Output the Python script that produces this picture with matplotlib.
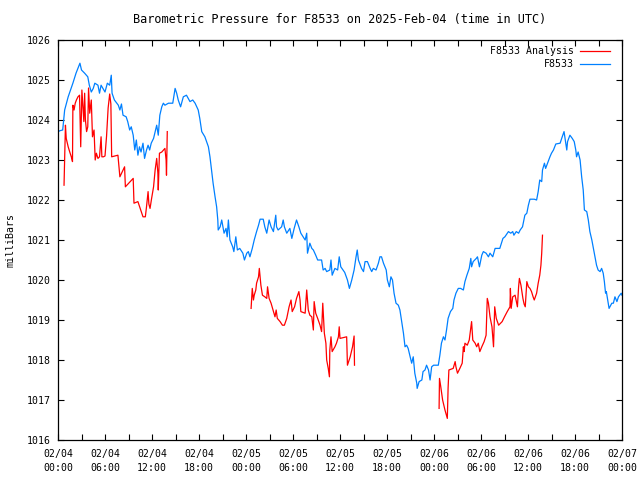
import numpy as np
import matplotlib
matplotlib.use('Agg')
import matplotlib.pyplot as plt

# F8533 observed pressure (hours since 2025-02-04 00:00 UTC, mb)
obs_hours = [
    0.0, 0.2, 0.6, 0.85, 1.3, 1.6, 1.9, 2.3, 2.8, 3.0, 3.4, 3.8, 4.0, 4.25, 4.5, 4.7,
    5.1, 5.3, 5.5, 6.0, 6.3, 6.6, 6.8, 6.9, 7.2, 7.7, 7.9, 8.1, 8.3, 8.7, 8.9, 9.15,
    9.35, 9.6, 9.8, 10.0, 10.2, 10.4, 10.6, 10.85, 11.05, 11.3, 11.5, 11.7, 11.9, 12.2,
    12.6, 12.8, 13.0, 13.25, 13.45, 13.65, 14.1, 14.65, 14.95, 15.15, 15.35, 15.65, 16.0,
    16.4, 16.85, 17.2, 17.5, 17.9, 18.1, 18.35, 18.75, 19.2, 19.4, 19.6, 19.8, 20.05,
    20.25, 20.4, 20.45, 20.7, 20.9, 21.2, 21.45, 21.6, 21.75, 21.95, 22.3, 22.45, 22.7,
    22.9, 23.2, 23.6, 23.8, 24.1, 24.3, 24.5, 24.8, 25.05, 25.35, 25.6, 25.8, 26.2, 26.4,
    26.65, 26.95, 27.2, 27.5, 27.8, 27.9, 28.1, 28.55, 28.75, 28.9, 29.2, 29.6, 29.85,
    30.15, 30.45, 30.75, 31.0, 31.3, 31.55, 31.75, 31.85, 32.15, 32.4, 32.6, 32.9, 33.15,
    33.65, 33.85, 34.1, 34.3, 34.7, 34.85, 35.0, 35.35, 35.7, 35.9, 36.1, 36.6, 36.95,
    37.2, 37.5, 37.8, 38.05, 38.2, 38.35, 38.75, 39.0, 39.2, 39.5, 39.85, 40.05, 40.25,
    40.6, 40.9, 41.1, 41.3, 41.55, 41.9, 42.05, 42.3, 42.5, 42.7, 42.9, 43.15, 43.45,
    43.65, 43.85, 44.1, 44.3, 44.5, 44.7, 44.95, 45.15, 45.35, 45.55, 45.8, 45.85, 46.1,
    46.45, 46.6, 46.85, 47.05, 47.3, 47.5, 47.7, 47.95, 48.55, 48.75, 48.95, 49.2, 49.4,
    49.6, 49.8, 50.1, 50.4, 50.55, 50.8, 51.1, 51.4, 51.75, 51.95, 52.2, 52.5, 52.7, 52.8,
    53.0, 53.4, 53.55, 53.8, 54.1, 54.3, 54.65, 54.95, 55.15, 55.5, 55.8, 56.4, 56.8,
    57.05, 57.5, 57.8, 58.05, 58.2, 58.5, 58.8, 59.0, 59.3, 59.6, 59.85, 60.05, 60.25,
    60.8, 61.1, 61.3, 61.5, 61.75, 61.85, 62.1, 62.25, 62.5, 62.8, 63.0, 63.25, 63.55,
    64.1, 64.3, 64.6, 64.7, 64.95, 65.05, 65.35, 65.65, 65.9, 66.1, 66.2, 66.4, 66.65,
    66.85, 67.05, 67.2, 67.5, 67.7, 67.9, 68.15, 68.35, 68.55, 68.75, 68.95, 69.2, 69.4,
    69.6, 69.75, 69.9, 70.0, 70.25, 70.35, 70.7, 70.9, 71.1, 71.35, 71.55, 71.9, 72.0,
]
obs_pres = [
    1023.7, 1023.73, 1023.75, 1024.25, 1024.58, 1024.75, 1024.92, 1025.17, 1025.42,
    1025.25, 1025.17, 1025.08, 1024.87, 1024.7, 1024.79, 1024.92, 1024.87, 1024.67,
    1024.87, 1024.7, 1024.92, 1024.87, 1025.12, 1024.67, 1024.5, 1024.37, 1024.25,
    1024.4, 1024.12, 1024.08, 1023.96, 1023.75, 1023.83, 1023.62, 1023.25, 1023.5,
    1023.12, 1023.33, 1023.2, 1023.42, 1023.04, 1023.25, 1023.37, 1023.25, 1023.42,
    1023.54, 1023.87, 1023.62, 1024.12, 1024.33, 1024.42, 1024.37, 1024.42, 1024.42,
    1024.79, 1024.67, 1024.5, 1024.33, 1024.58, 1024.62, 1024.46, 1024.5, 1024.42,
    1024.25, 1024.04, 1023.71, 1023.58, 1023.33, 1023.08, 1022.75, 1022.42, 1022.08,
    1021.83, 1021.5, 1021.25, 1021.33, 1021.5, 1021.17, 1021.29, 1021.08, 1021.5,
    1021.0, 1020.83, 1020.71, 1021.08, 1020.75, 1020.79, 1020.67, 1020.5, 1020.67,
    1020.71, 1020.58, 1020.79, 1021.0, 1021.21, 1021.37, 1021.52, 1021.52, 1021.33,
    1021.17, 1021.5, 1021.33, 1021.21, 1021.62, 1021.33, 1021.25, 1021.33, 1021.5,
    1021.33, 1021.17, 1021.29, 1021.04, 1021.29, 1021.5, 1021.33, 1021.17, 1021.08,
    1021.0, 1021.17, 1020.67, 1020.92, 1020.79, 1020.75, 1020.62, 1020.5, 1020.5,
    1020.25, 1020.29, 1020.21, 1020.25, 1020.5, 1020.12, 1020.29, 1020.25, 1020.58,
    1020.33, 1020.19, 1020.0, 1019.79, 1020.0, 1020.25, 1020.58, 1020.75, 1020.5,
    1020.29, 1020.21, 1020.46, 1020.46, 1020.29, 1020.21, 1020.29, 1020.25, 1020.42,
    1020.58, 1020.58, 1020.42, 1020.25, 1020.0, 1019.83, 1020.08, 1020.0, 1019.67,
    1019.42, 1019.37, 1019.25, 1019.0, 1018.67, 1018.33, 1018.37, 1018.29, 1018.08,
    1017.92, 1018.08, 1017.67, 1017.42, 1017.29, 1017.46, 1017.5, 1017.71, 1017.75,
    1017.87, 1017.75, 1017.5, 1017.83, 1017.87, 1017.87, 1018.12, 1018.42, 1018.58,
    1018.5, 1018.75, 1019.04, 1019.21, 1019.29, 1019.5, 1019.67, 1019.79, 1019.79,
    1019.75, 1019.96, 1020.12, 1020.29, 1020.54, 1020.33, 1020.46, 1020.54, 1020.58,
    1020.33, 1020.62, 1020.71, 1020.67, 1020.58, 1020.67, 1020.58, 1020.79, 1020.79,
    1021.04, 1021.08, 1021.21, 1021.17, 1021.21, 1021.12, 1021.21, 1021.17, 1021.25,
    1021.33, 1021.62, 1021.67, 1021.87, 1022.02, 1022.02, 1022.0, 1022.21, 1022.5,
    1022.46, 1022.75, 1022.92, 1022.79, 1022.92, 1023.08, 1023.17, 1023.25, 1023.4,
    1023.42, 1023.54, 1023.71, 1023.58, 1023.25, 1023.46, 1023.62, 1023.54, 1023.46,
    1023.25, 1023.08, 1023.2, 1023.0, 1022.58, 1022.25, 1021.75, 1021.71, 1021.5,
    1021.21, 1021.0, 1020.79, 1020.58, 1020.37, 1020.25, 1020.21, 1020.29, 1020.17,
    1019.96, 1019.67, 1019.71, 1019.42, 1019.29, 1019.42, 1019.42, 1019.58, 1019.46,
    1019.58, 1019.67, 1019.62,
]

# F8533 analysis (gaps marked with nan)
ana_hours = [
    0.77, 0.95, 1.05, 1.3, 1.5, 1.7, 1.85, 1.9, 2.05, 2.2, 2.35, 2.55, 2.75, 2.9, 3.05,
    3.2, 3.3, 3.4, 3.5, 3.65, 3.8, 3.9, 4.05, 4.25, 4.4, 4.6, 4.75, 4.9, 5.1, 5.3, 5.5,
    5.6, 5.8, 6.0, 6.2, 6.4, 6.6, 6.75, 6.85, 7.65, 7.9, 8.5, 8.6, 9.6, 9.7, 10.2, 10.85,
    11.15, 11.3, 11.5, 11.6, 11.75, 11.95, 12.2, 12.4, 12.6, 12.75, 12.8, 12.95, 13.25,
    13.65, 13.8, 13.85, 13.95,
    19.0,
    24.65, 24.8, 24.95, 25.05, 25.25, 25.35, 25.6, 25.7, 25.9, 26.1, 26.4, 26.65, 26.75,
    26.95, 27.2, 27.5, 27.7, 27.85, 28.0, 28.35, 28.65, 28.9, 29.2, 29.5, 29.75, 29.9,
    30.2, 30.45, 30.75, 30.9, 31.0, 31.55, 31.75, 31.95, 32.15, 32.4, 32.6, 32.7, 32.9,
    33.15, 33.45, 33.65, 33.8, 34.0, 34.2, 34.3, 34.5, 34.65, 34.7, 34.85, 35.0, 35.35,
    35.55, 35.8, 35.9, 36.0, 36.85, 36.95, 37.3, 37.6, 37.8, 37.85,
    43.0,
    48.65, 48.7, 48.85, 49.1, 49.4, 49.7, 49.8, 49.9, 50.45, 50.7, 50.8, 51.0, 51.3, 51.6,
    51.75, 51.85, 51.95, 52.25, 52.5, 52.8, 52.95, 53.25, 53.45, 53.65, 53.85, 54.1, 54.4,
    54.65, 54.8, 54.95, 55.15, 55.4, 55.6, 55.75, 55.95, 56.25, 56.7, 57.0, 57.35, 57.7,
    57.75, 57.85, 58.05, 58.35, 58.65, 58.8, 58.9, 59.1, 59.35, 59.5, 59.65, 59.85, 60.05,
    60.25, 60.45, 60.65, 60.8, 61.1, 61.3, 61.5, 61.65, 61.75, 61.85,
]
ana_pres = [
    1022.37, 1023.87, 1023.54, 1023.33, 1023.2, 1023.08, 1022.96, 1024.37, 1024.25,
    1024.42, 1024.5, 1024.58, 1024.62, 1023.33, 1024.75, 1024.25, 1023.96, 1024.67,
    1024.0, 1023.71, 1023.83, 1024.8, 1024.17, 1024.5, 1023.58, 1023.75, 1023.0,
    1023.17, 1023.04, 1023.08, 1023.58, 1023.08, 1023.08, 1023.1, 1023.6, 1024.3,
    1024.65, 1024.4, 1023.08, 1023.12, 1022.58, 1022.83, 1022.33, 1022.54, 1021.92,
    1021.96, 1021.58, 1021.58, 1021.83, 1022.21, 1021.9, 1021.79, 1022.04, 1022.33,
    1022.75, 1023.04, 1022.67, 1022.25, 1023.17, 1023.2, 1023.29, 1023.0, 1022.62,
    1023.71,
    np.nan,
    1019.29, 1019.79, 1019.5, 1019.62, 1019.75, 1019.92, 1020.08, 1020.29, 1019.87,
    1019.62, 1019.58, 1019.54, 1019.83, 1019.54, 1019.42, 1019.21, 1019.08, 1019.25,
    1019.04, 1018.96, 1018.87, 1018.87, 1019.04, 1019.33, 1019.5, 1019.21, 1019.33,
    1019.54, 1019.71, 1019.5, 1019.21, 1019.17, 1019.75, 1019.25, 1019.12, 1019.08,
    1018.75, 1019.46, 1019.17, 1019.04, 1018.87, 1018.71, 1019.42, 1018.67, 1018.42,
    1018.0, 1017.79, 1017.58, 1018.25, 1018.58, 1018.21, 1018.33, 1018.42, 1018.58,
    1018.83, 1018.54, 1018.58, 1017.87, 1018.08, 1018.33, 1018.6, 1017.87,
    np.nan,
    1016.79, 1017.54, 1017.35, 1017.0, 1016.75, 1016.54, 1017.3, 1017.75, 1017.79,
    1017.96, 1017.83, 1017.67, 1017.79, 1017.92, 1018.33, 1018.21, 1018.42, 1018.37,
    1018.5, 1018.96, 1018.5, 1018.42, 1018.33, 1018.42, 1018.21, 1018.33, 1018.46,
    1018.62, 1019.54, 1019.42, 1019.08, 1018.83, 1018.33, 1019.33, 1019.04, 1018.87,
    1018.96, 1019.08, 1019.21, 1019.33, 1019.79, 1019.29, 1019.58, 1019.62, 1019.33,
    1019.83, 1020.04, 1019.87, 1019.54, 1019.4, 1019.33, 1019.96, 1019.83, 1019.79,
    1019.71, 1019.58, 1019.5, 1019.67, 1019.92, 1020.12, 1020.37, 1020.67, 1021.12,
]

tick_hours = [0, 6, 12, 18, 24, 30, 36, 42, 48, 54, 60, 66, 72]
tick_labels = [
    "02/04\n00:00", "02/04\n06:00", "02/04\n12:00", "02/04\n18:00",
    "02/05\n00:00", "02/05\n06:00", "02/05\n12:00", "02/05\n18:00",
    "02/06\n00:00", "02/06\n06:00", "02/06\n12:00", "02/06\n18:00",
    "02/07\n00:00",
]
ytick_values = [1016, 1017, 1018, 1019, 1020, 1021, 1022, 1023, 1024, 1025, 1026]

plt.rcParams['font.family'] = ['DejaVu Sans Mono']
plt.rcParams['font.size'] = 7.1

fig = plt.figure(figsize=(6.4, 4.8), dpi=100)
ax = fig.add_axes([58 / 640, 40 / 480, 564 / 640, 400 / 480])

ax.plot(ana_hours, ana_pres, color='#ff0000', lw=0.9, label='F8533 Analysis')
ax.plot(obs_hours, obs_pres, color='#0080ff', lw=0.9, label='F8533')

ax.set_xlim(0, 72)
ax.set_ylim(1016, 1026)
ax.set_xticks(tick_hours)
ax.set_xticklabels(tick_labels, linespacing=1.45)
ax.set_xticks(np.arange(3, 72, 6), minor=True)
ax.set_yticks(ytick_values)
ax.tick_params(which='both', direction='in', length=4, width=0.8,
               top=True, right=True, colors='black', pad=5)
ax.tick_params(axis='x', pad=6.5)
for s in ax.spines.values():
    s.set_linewidth(0.9)

ax.set_ylabel('milliBars', labelpad=8)
ax.set_title('Barometric Pressure for F8533 on 2025-Feb-04 (time in UTC)', pad=12)

# legend: text right-aligned, sample line on the right
ax.legend(loc='upper right', frameon=False, markerfirst=False, handlelength=3.0,
          handletextpad=0.7, labelspacing=0.3, borderpad=0, borderaxespad=0,
          bbox_to_anchor=(1 - 12 / 564, 1 - 6 / 400))

fig.savefig('out.png', dpi=100)
